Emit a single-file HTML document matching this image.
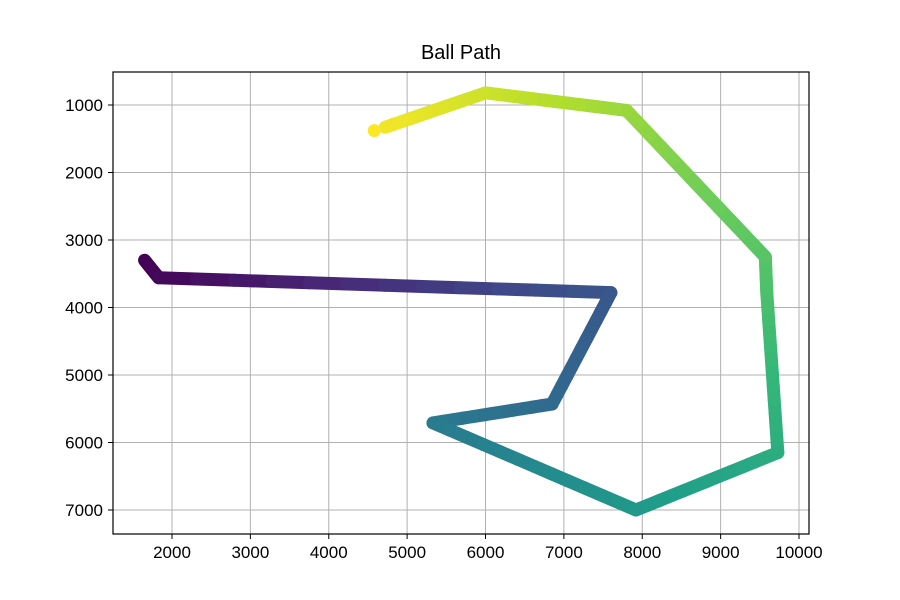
<!DOCTYPE html>
<html><head><meta charset="utf-8"><style>
body{margin:0;background:#fff}
svg{display:block;font-family:"Liberation Sans","DejaVu Sans",sans-serif}
</style></head><body>
<svg id="chart" width="900" height="600">
<rect width="900" height="600" fill="#fff"/>
<text x="461" y="59" font-size="20" text-anchor="middle">Ball Path</text>
<g id="grid"></g><g id="marks"></g><g id="axes"></g>
</svg>
<script>
const xs = [1650,1830,7600,6850,5330,7920,9730,9590,9570,7800,6000,4720];
const ys = [3300,3560,3780,5430,5710,7000,6150,3800,3250,1080,820,1330];
const endX = [4580];
const endY = [1380];
const xTicks = [2000,3000,4000,5000,6000,7000,8000,9000,10000];
const yTicks = [1000,2000,3000,4000,5000,6000,7000];

const L=113,R=809,T=72,B=534;
const sx=v=>172+(v-2000)*(799-172)/8000;
const sy=v=>105+(v-1000)*(510-105)/6000;
const NS="http://www.w3.org/2000/svg";
function mk(tag,attrs,parent){const e=document.createElementNS(NS,tag);for(const k in attrs)e.setAttribute(k,attrs[k]);parent.appendChild(e);return e;}
const vir=[[68,1,84],[72,40,120],[62,74,137],[49,104,142],[38,130,142],[31,158,137],[53,183,121],[109,205,89],[180,222,44],[253,231,37]];
function viridis(t){t=Math.max(0,Math.min(1,t));const p=t*(vir.length-1),i=Math.min(Math.floor(p),vir.length-2),f=p-i;const c=vir[i].map((v,k)=>Math.round(v+(vir[i+1][k]-v)*f));return`rgb(${c})`;}
const grid=document.getElementById('grid'),marks=document.getElementById('marks'),axes=document.getElementById('axes');
xTicks.forEach(v=>{const x=sx(v);
 const g=mk('line',{x1:x,x2:x,y1:T,y2:B,stroke:'#b0b0b0','stroke-width':1},grid);
 
 const t=mk('line',{x1:x,x2:x,y1:B,y2:B+5,stroke:'#000'},axes);
 
 const l=mk('text',{x:x,y:B+24,'font-size':17,'text-anchor':'middle'},axes);l.textContent=v;
 });
yTicks.forEach(v=>{const y=sy(v);
 const g=mk('line',{x1:L,x2:R,y1:y,y2:y,stroke:'#b0b0b0','stroke-width':1},grid);
 
 const t=mk('line',{x1:L-5,x2:L,y1:y,y2:y,stroke:'#000'},axes);
 
 const l=mk('text',{x:L-10,y:y+6,'font-size':17,'text-anchor':'end'},axes);l.textContent=v;
 });
const fr=mk('rect',{x:L,y:T,width:R-L,height:B-T,fill:'none',stroke:'#000','stroke-width':1.2},axes);

let len=[0];for(let i=1;i<xs.length;i++){len.push(len[i-1]+Math.hypot(sx(xs[i])-sx(xs[i-1]),sy(ys[i])-sy(ys[i-1])));}
const total=len[len.length-1]+30;
for(let i=1;i<xs.length;i++){
 const steps=12;
 for(let s=0;s<steps;s++){
  const a=s/steps,b=(s+1)/steps;
  const x1=sx(xs[i-1])+(sx(xs[i])-sx(xs[i-1]))*a,y1=sy(ys[i-1])+(sy(ys[i])-sy(ys[i-1]))*a;
  const x2=sx(xs[i-1])+(sx(xs[i])-sx(xs[i-1]))*b,y2=sy(ys[i-1])+(sy(ys[i])-sy(ys[i-1]))*b;
  const t=(len[i-1]+(len[i]-len[i-1])*(a+b)/2)/total;
  const seg=mk('line',{x1,y1,x2,y2,stroke:viridis(t),'stroke-width':13,'stroke-linecap':'round'},marks);
  
  
 }
}
endX.forEach((v,i)=>{const c=mk('circle',{cx:sx(v),cy:sy(endY[i]),r:6.5,fill:viridis(1)},marks);
 
 });
</script>
</body></html>
